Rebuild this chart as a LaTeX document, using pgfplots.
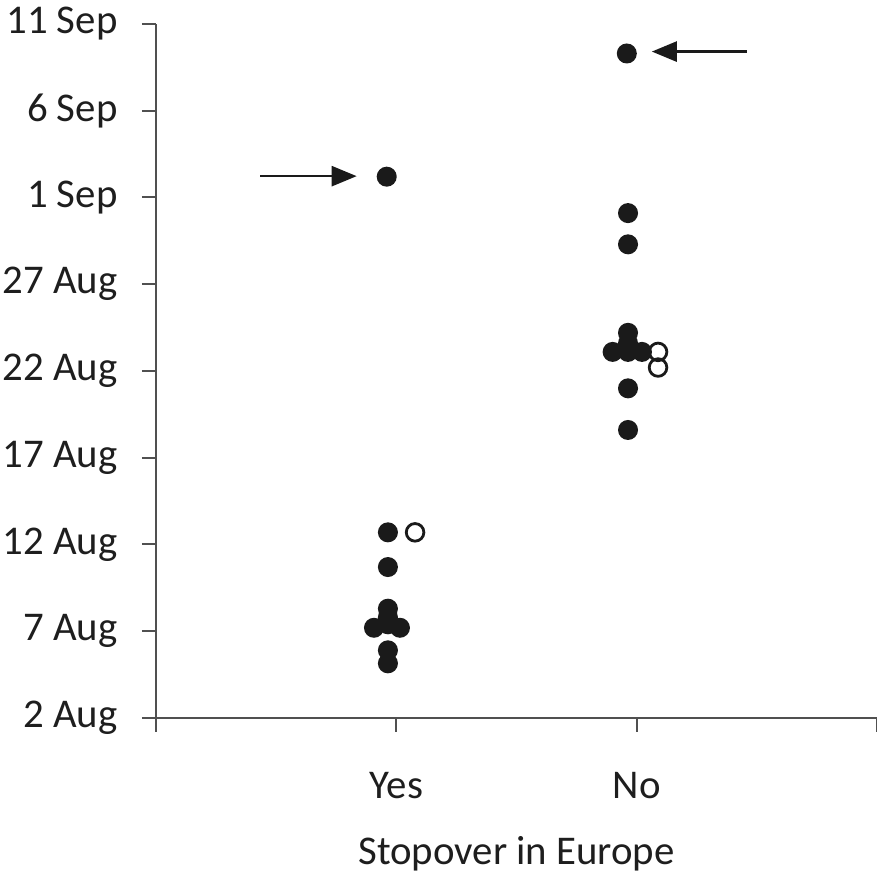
\documentclass[border=0pt]{standalone}
\usepackage{pgfplots}
\pgfplotsset{compat=1.18}
\usepackage{fontspec}
\setmainfont{Carlito}
\usetikzlibrary{arrows.meta}
\definecolor{axgray}{HTML}{505050}
\definecolor{txt}{HTML}{1E1E1E}
\definecolor{dot}{HTML}{1A1A1A}
\begin{document}
\begin{tikzpicture}
\useasboundingbox (-39pt,-39.25pt) rectangle (180.25pt,179.5pt);
\begin{axis}[
  scale only axis, width=180.25pt, height=173.5pt,
  xmin=0, xmax=3, ymin=0, ymax=40,
  axis lines=left, axis line style={-, axgray, line width=0.5pt},
  xtick={0,1,2,3}, xticklabels={,Yes,No,},
  ytick={0,5,10,15,20,25,30,35,40},
  yticklabels={2 Aug,7 Aug,12 Aug,17 Aug,22 Aug,27 Aug,1 Sep,6 Sep,11 Sep},
  tick align=outside, major tick length=3.5pt,
  tick style={axgray, line width=0.5pt},
  ticklabel style={font=\fontsize{10.2}{12}\selectfont, text=txt},
  yticklabel style={xshift=-2.6pt},
  xticklabel style={anchor=center, yshift=-13.5pt},
  xlabel={Stopover in Europe},
  xlabel style={font=\fontsize{10.2}{12}\selectfont, text=txt, at={(rel axis cs:0.5,0)}, anchor=center, yshift=-34pt},
  clip=false,
]
\addplot[only marks, mark=*, mark size=2.3pt, mark options={fill=dot, draw=dot}] coordinates {
 (0.960,31.2) (0.965,10.7) (0.965,8.7) (0.965,6.3) (0.965,5.8) (0.965,5.4)
 (0.907,5.2) (1.015,5.2) (0.965,3.9) (0.965,3.15)
 (1.959,38.3) (1.964,29.1) (1.964,27.3) (1.964,22.2) (1.964,21.6)
 (1.900,21.1) (1.964,21.1) (2.022,21.1) (1.964,19.0) (1.964,16.6)
};
\addplot[only marks, mark=o, mark size=2.2pt, mark options={draw=dot, line width=0.7pt, fill=white}] coordinates {
 (1.078,10.7) (2.089,21.1) (2.089,20.2)
};
\draw[line width=0.65pt, dot, -{Triangle[length=6.25pt, width=5pt]}] (axis cs:0.433,31.23) -- (axis cs:0.835,31.23);
\draw[line width=0.65pt, dot, -{Triangle[length=6.25pt, width=5pt]}] (axis cs:2.458,38.41) -- (axis cs:2.063,38.41);
\end{axis}
\end{tikzpicture}
\end{document}
